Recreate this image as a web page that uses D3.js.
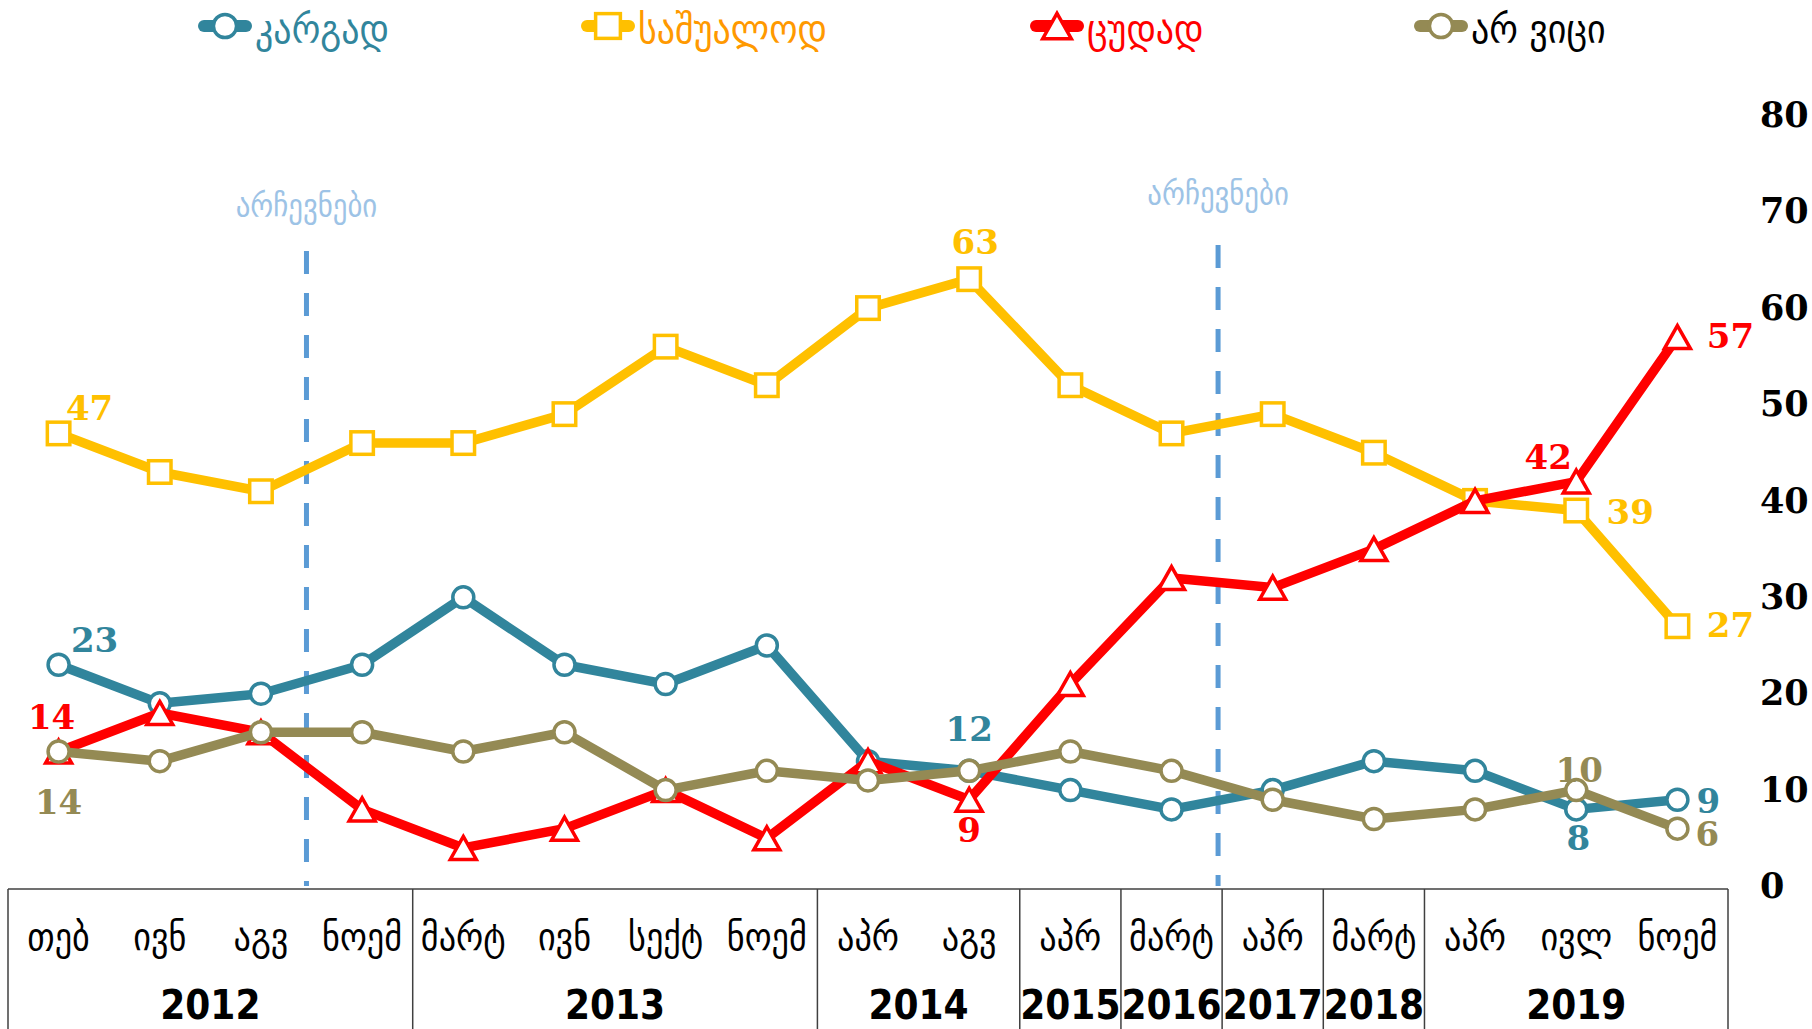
<!DOCTYPE html>
<html>
<head>
<meta charset="utf-8">
<script src="https://cdn.jsdelivr.net/npm/d3@7"></script>
<style>
  body { margin: 0; background: #fff; }
  svg { display: block; }
</style>
</head>
<body>
<div id="chart"></div>
<script>
// canvas
const width = 1812,
  height = 1029

// data
const months = ['თებ', 'ივნ', 'აგვ', 'ნოემ', 'მარტ', 'ივნ', 'სექტ', 'ნოემ', 'აპრ', 'აგვ', 'აპრ', 'მარტ', 'აპრ', 'მარტ', 'აპრ', 'ივლ', 'ნოემ']
const years = ['2012', '2013', '2014', '2015', '2016', '2017', '2018', '2019']
const yearSpans = [4, 4, 2, 1, 1, 1, 1, 3]

const seriesNames = ['კარგად', 'საშუალოდ', 'ცუდად', 'არ ვიცი']
const good = [23, 19, 20, 23, 30, 23, 21, 25, 13, 12, 10, 8, 10, 13, 12, 8, 9]
const average = [47, 43, 41, 46, 46, 49, 56, 52, 60, 63, 52, 47, 49, 45, 40, 39, 27]
const bad = [14, 18, 16, 8, 4, 6, 10, 5, 13, 9, 21, 32, 31, 35, 40, 42, 57]
const dontKnow = [14, 13, 16, 16, 14, 16, 10, 12, 11, 12, 14, 12, 9, 7, 8, 10, 6]

const yTicks = [0, 10, 20, 30, 40, 50, 60, 70, 80]
const electionLabel = 'არჩევნები'
const electionAt = [2.45, 11.46] // between survey waves, in category units

// which points carry a value label
const valueLabels = [
  { s: 1, i: 0, dx: 31, dy: -26 },
  { s: 0, i: 0, dx: 36, dy: -25 },
  { s: 2, i: 0, dx: -7, dy: -35 },
  { s: 3, i: 0, dx: 0, dy: 50 },
  { s: 1, i: 9, dx: 6, dy: -37 },
  { s: 0, i: 9, dx: 0, dy: -42 },
  { s: 2, i: 9, dx: 0, dy: 30 },
  { s: 2, i: 15, dx: -28, dy: -25 },
  { s: 1, i: 15, dx: 54, dy: 1 },
  { s: 3, i: 15, dx: 3, dy: -20 },
  { s: 0, i: 15, dx: 2, dy: 28 },
  { s: 2, i: 16, dx: 53, dy: -1 },
  { s: 1, i: 16, dx: 53, dy: -1 },
  { s: 0, i: 16, dx: 31, dy: 1 },
  { s: 3, i: 16, dx: 30, dy: 5 }
]

const colors = ['#31859c', '#ffc000', '#ff0000', '#948a54']
const legendText = ['#31859c', '#ff9900', '#ff0000', '#000000']
const markers = ['circle', 'square', 'triangle', 'circle']
const values = [good, average, bad, dontKnow]

const georgian = "'DejaVu Sans Condensed', 'DejaVu Sans', sans-serif"
const numFont = "'DejaVu Serif', serif"

let svg = d3.select('#chart')
  .append('svg')
  .attr('width', width)
  .attr('height', height)

// scales
const x = d3.scaleBand()
  .domain(d3.range(months.length))
  .range([8, 1728])
const cx = i => x(i) + x.bandwidth() / 2
const xLin = d3.scaleLinear()
  .domain([0, months.length - 1])
  .range([cx(0), cx(months.length - 1)])
const y = d3.scaleLinear()
  .domain([0, 80])
  .range([886.5, 115.3])

// marker helper
let addMarker = (g, type, color, big) => {
  const k = big ? 1.1 : 1
  if (type === 'circle') {
    g.append('circle').attr('r', 10.5 * k)
      .attr('fill', '#fff').attr('stroke', color).attr('stroke-width', 3.5)
  } else if (type === 'square') {
    const s = 22.5 * k
    g.append('rect').attr('x', -s / 2).attr('y', -s / 2).attr('width', s).attr('height', s)
      .attr('fill', '#fff').attr('stroke', color).attr('stroke-width', 3.5)
  } else {
    const w = 26 * k, h = 23 * k
    g.append('path').attr('d', `M0,${-h / 2}L${w / 2},${h / 2}L${-w / 2},${h / 2}Z`)
      .attr('fill', '#fff').attr('stroke', color).attr('stroke-width', 3.5)
      .attr('stroke-linejoin', 'miter')
  }
}

// election markers
const electionTop = [251, 245]
const electionLabelY = [206, 194]
electionAt.forEach((pos, k) => {
  svg.append('line')
    .attr('x1', xLin(pos)).attr('x2', xLin(pos))
    .attr('y1', electionTop[k]).attr('y2', 886)
    .attr('stroke', '#5b9bd5')
    .attr('stroke-width', 5)
    .attr('stroke-dasharray', '23,19')
  svg.append('text')
    .attr('x', xLin(pos))
    .attr('y', electionLabelY[k])
    .attr('dy', '0.35em')
    .attr('text-anchor', 'middle')
    .attr('font-family', georgian)
    .attr('font-size', 32)
    .attr('fill', '#9dc3e6')
    .text(electionLabel)
})

// series, drawn yellow, teal, red, olive
const order = [1, 0, 2, 3]
const line = d3.line()
  .x((d, i) => cx(i))
  .y(d => y(d))

order.forEach(s => {
  const g = svg.append('g')
  g.append('path')
    .datum(values[s])
    .attr('d', line)
    .attr('fill', 'none')
    .attr('stroke', colors[s])
    .attr('stroke-width', 9.5)
    .attr('stroke-linejoin', 'round')
  values[s].forEach((v, i) => {
    const m = g.append('g').attr('transform', `translate(${cx(i)},${y(v)})`)
    addMarker(m, markers[s], colors[s])
  })
})

// value labels
svg.append('g')
  .selectAll('text')
  .data(valueLabels)
  .enter()
  .append('text')
  .attr('x', d => cx(d.i) + d.dx)
  .attr('y', d => y(values[d.s][d.i]) + d.dy)
  .attr('dy', '0.36em')
  .attr('text-anchor', 'middle')
  .attr('font-family', numFont)
  .attr('font-weight', 'bold')
  .attr('font-size', 34)
  .attr('fill', d => colors[d.s])
  .text(d => values[d.s][d.i])

// y axis on the right
const yAxis = d3.axisRight(y)
  .tickValues(yTicks)
  .tickSize(0)
  .tickPadding(0)

svg.append('g')
  .attr('transform', 'translate(1760,0)')
  .call(yAxis)
  .call(g => g.select('.domain').remove())
  .selectAll('text')
  .attr('font-family', numFont)
  .attr('font-weight', 'bold')
  .attr('font-size', 35)
  .attr('fill', '#000')

// category table
const tableTop = 889
const table = svg.append('g')
  .attr('stroke', '#404040')
  .attr('stroke-width', 1.5)
table.append('line')
  .attr('x1', x.range()[0]).attr('x2', x.range()[1])
  .attr('y1', tableTop).attr('y2', tableTop)

let start = 0
const bounds = [0]
yearSpans.forEach(n => { start += n; bounds.push(start) })
bounds.forEach(b => {
  const bx = b < months.length ? x(b) : x.range()[1]
  table.append('line')
    .attr('x1', bx).attr('x2', bx)
    .attr('y1', tableTop).attr('y2', height)
})

svg.append('g')
  .selectAll('text')
  .data(months)
  .enter()
  .append('text')
  .attr('x', (d, i) => cx(i))
  .attr('y', 937)
  .attr('dy', '0.35em')
  .attr('text-anchor', 'middle')
  .attr('font-family', georgian)
  .attr('font-size', 38)
  .attr('fill', '#000')
  .text(d => d)

svg.append('g')
  .selectAll('text')
  .data(years)
  .enter()
  .append('text')
  .attr('x', (d, k) => (x(bounds[k]) + (bounds[k + 1] < months.length ? x(bounds[k + 1]) : x.range()[1])) / 2)
  .attr('y', 1005)
  .attr('dy', '0.36em')
  .attr('text-anchor', 'middle')
  .attr('font-family', "'DejaVu Sans Condensed', 'DejaVu Sans', sans-serif")
  .attr('font-weight', 'bold')
  .attr('font-size', 40)
  .attr('fill', '#000')
  .text(d => d)

// legend
const legendX = [199, 582, 1031, 1415]
const legendY = 26
seriesNames.forEach((name, s) => {
  const g = svg.append('g').attr('transform', `translate(${legendX[s]},${legendY})`)
  g.append('line')
    .attr('x1', 5).attr('x2', 47)
    .attr('stroke', colors[s])
    .attr('stroke-width', 12)
    .attr('stroke-linecap', 'round')
  const m = g.append('g').attr('transform', 'translate(26,0)')
  addMarker(m, markers[s], colors[s], true)
  g.append('text')
    .attr('x', 56)
    .attr('dy', '0.42em')
    .attr('font-family', georgian)
    .attr('font-size', 40)
    .attr('fill', legendText[s])
    .text(name)
})
</script>
</body>
</html>
